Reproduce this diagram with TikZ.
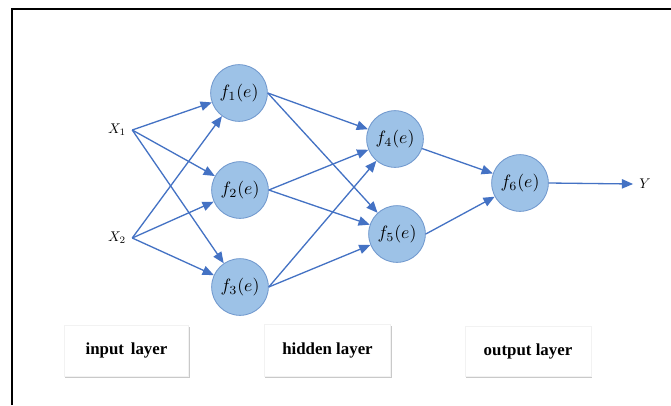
\documentclass[tikz,border=0pt]{standalone}
\usepackage{fontspec}
\newfontfamily\boxfont{Liberation Serif}
\usetikzlibrary{arrows.meta,shadows}
\definecolor{edgeblue}{RGB}{68,114,196}
\definecolor{nodefill}{RGB}{157,194,231}
\definecolor{nodeborder}{RGB}{112,152,206}
\newcommand{\neulabel}[1]{\scalebox{1.9}{$f_{#1}(e)$}}
\newcommand{\iotext}[1]{\scalebox{1.5}{$#1$}}
\begin{document}
\begin{tikzpicture}[x=0.0375cm,y=-0.0375cm,
  neuron/.style={circle,draw=nodeborder,line width=0.9pt,fill=nodefill,
    minimum size=60.5pt,inner sep=0pt},
  iolabel/.style={inner sep=6.5pt},
  layerbox/.style={draw=black!5,fill=white,line width=0.6pt,
    drop shadow={shadow xshift=1.2pt,shadow yshift=-2.5pt,opacity=0.35,fill=black!60},
    font=\boxfont\bfseries\fontsize{18}{20}\selectfont,inner sep=0pt},
  conn/.style={draw=edgeblue,line width=1.4pt,-{Triangle[length=12pt,width=10pt]}}
]
\useasboundingbox (0,0) rectangle (671,405);
\fill[white] (0,0) rectangle (671,405);
\draw[line width=2pt] (12,405) -- (12,9) -- (671,9);

% labels
\node[iolabel] (x1) at (117,130) {\iotext{X_1}};
\node[iolabel] (x2) at (117,238) {\iotext{X_2}};
\node[iolabel] (y) at (645,184) {\iotext{Y}};

% neurons
\node[neuron] (f1) at (239,93) {\neulabel{1}};
\node[neuron] (f2) at (240,190) {\neulabel{2}};
\node[neuron] (f3) at (240,287) {\neulabel{3}};
\node[neuron] (f4) at (395,139) {\neulabel{4}};
\node[neuron] (f5) at (397,234) {\neulabel{5}};
\node[neuron] (f6) at (520,183) {\neulabel{6}};

% connections
\foreach \s in {x1,x2}
  \foreach \t in {f1,f2,f3}
    \draw[conn] (\s.east) -- (\t);
\foreach \s in {f1,f2,f3}
  \foreach \t in {f4,f5}
    \draw[conn] (\s.east) -- (\t);
\draw[conn] (f4) -- (f6);
\draw[conn] (f5.east) -- (f6);
\draw[conn] (f6.east) -- (y.west);

% layer boxes
\node[layerbox,minimum width=132.9pt,minimum height=54.2pt] (inbox) at (126.5,350.5) {input\hspace{0.15em} layer};
\node[layerbox,minimum width=135pt,minimum height=55.3pt] (hidbox) at (327.5,350) {hidden layer};
\node[layerbox,minimum width=134pt,minimum height=53.2pt] (outbox) at (528,351) {output layer};
\end{tikzpicture}
\end{document}
